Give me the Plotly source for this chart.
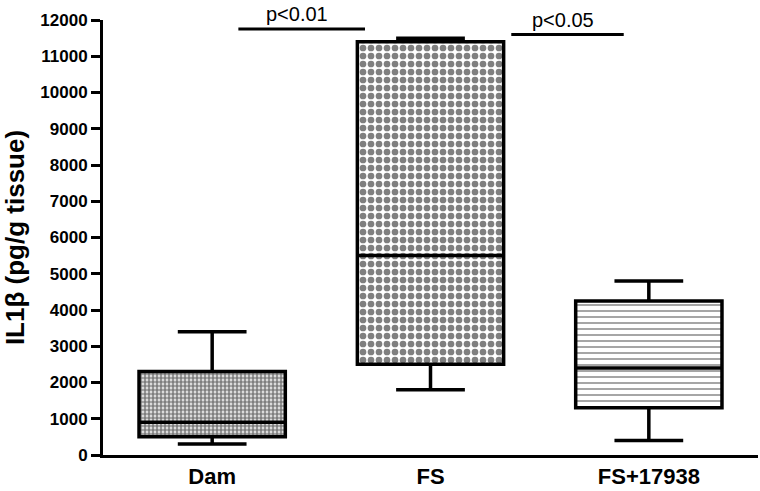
import plotly.graph_objects as go

# values (pg/g tissue)
groups = ["Dam", "FS", "FS+17938"]
q1 = [500, 2500, 1300]
median = [900, 5500, 2400]
q3 = [2300, 11400, 4250]
low = [300, 1800, 400]
high = [3400, 11500, 4800]

yticks = list(range(0, 12001, 1000))

# significance bars
sig_x0 = [0.12, 1.37]
sig_x1 = [0.70, 1.885]
sig_y = [11750, 11600]
sig_text = ["p<0.01", "p<0.05"]

FONT = "Arial, Liberation Sans, sans-serif"
BOXW = 0.67

fig = go.Figure()

# patterned fill of the boxes (between q1 and q3)
fig.add_trace(go.Bar(
    x=groups,
    y=[b - a for a, b in zip(q1, q3)],
    base=q1,
    width=BOXW,
    marker=dict(
        color="white",
        line=dict(width=0),
        pattern=dict(
            shape=[".", ".", "-"],
            size=[4, 8, 6],
            solidity=[0.7, 0.55, 0.25],
            fgcolor=["black", "black", "#111"],
            bgcolor="white",
        ),
    ),
    hoverinfo="skip",
    showlegend=False,
))

# box outlines, medians and whiskers
fig.add_trace(go.Box(
    x=groups,
    q1=q1,
    median=median,
    q3=q3,
    lowerfence=low,
    upperfence=high,
    width=BOXW,
    whiskerwidth=0.47,
    fillcolor="rgba(0,0,0,0)",
    line=dict(color="black", width=3.5),
    boxpoints=False,
    showlegend=False,
))

for x0, x1, y, t in zip(sig_x0, sig_x1, sig_y, sig_text):
    fig.add_shape(type="line", xref="x", yref="y", x0=x0, x1=x1, y0=y, y1=y,
                  line=dict(color="black", width=3))
    fig.add_annotation(x=(x0 + x1) / 2 - 0.02, y=y, text=t, showarrow=False,
                       xref="x", yref="y", yanchor="bottom", yshift=2,
                       font=dict(family=FONT, size=20, color="black"))

fig.update_layout(
    width=760,
    height=491,
    margin=dict(l=103, r=2, t=20, b=30),
    paper_bgcolor="white",
    plot_bgcolor="white",
    barmode="overlay",
    showlegend=False,
    font=dict(family=FONT, color="black"),
)

fig.update_xaxes(
    type="category",
    range=[-0.5, 2.5],
    showline=True,
    linecolor="black",
    linewidth=3,
    ticks="",
    showgrid=False,
    zeroline=False,
    tickfont=dict(family=FONT, size=22, weight="bold", color="black"),
)

fig.update_yaxes(
    range=[0, 12000],
    tickvals=yticks,
    ticktext=[str(v) for v in yticks],
    showline=True,
    linecolor="black",
    linewidth=3,
    ticks="outside",
    ticklen=9,
    tickwidth=3,
    tickcolor="black",
    showgrid=False,
    zeroline=False,
    tickfont=dict(family=FONT, size=17, weight="bold", color="black"),
    title=dict(text="IL1β (pg/g tissue)", standoff=10,
               font=dict(family=FONT, size=26, weight="bold", color="black")),
)

# drop the page's default body margin so the figure fills the window
fig.write_html("out.html",
               config={"displayModeBar": False},
               post_script="document.body.style.margin='0';"
                           "document.body.style.overflow='hidden';")
